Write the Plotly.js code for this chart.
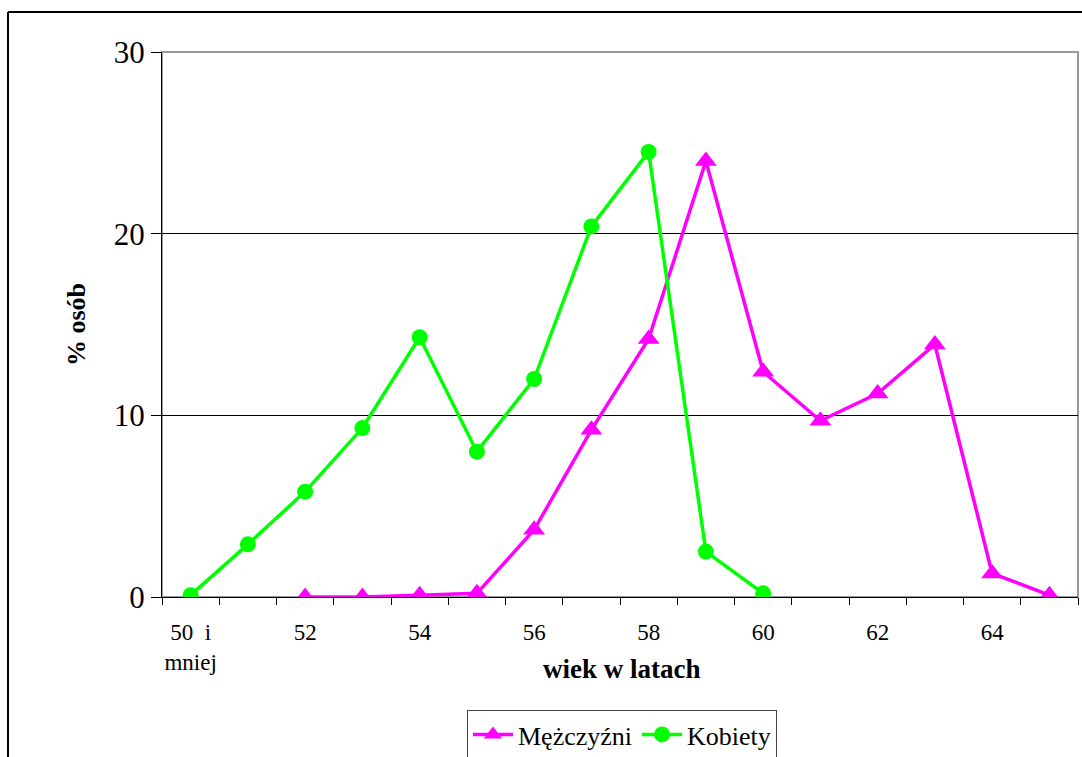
<!DOCTYPE html>
<html>
<head>
<meta charset="utf-8">
<script src="https://cdn.plot.ly/plotly-3.0.1.min.js"></script>
<style>html,body{margin:0;padding:0;background:#fff;}#chart{width:1082px;height:757px;}</style>
</head>
<body>
<div id="chart"></div>
<script>
// Age categories (x positions) and labels
const ages = [50, 51, 52, 53, 54, 55, 56, 57, 58, 59, 60, 61, 62, 63, 64, 65];
const tickPositions = [50, 52, 54, 56, 58, 60, 62, 64];
const tickLabels = ["50\u00a0\u00a0i<br>mniej", "52", "54", "56", "58", "60", "62", "64"];
const xTitle = "wiek w latach";
const yTitle = "% osób";

// Series values (% osób)
const menAges = [52, 53, 54, 55, 56, 57, 58, 59, 60, 61, 62, 63, 64, 65];
const men = [0.0, 0.0, 0.1, 0.2, 3.7, 9.2, 14.2, 24.0, 12.4, 9.7, 11.2, 13.9, 1.3, 0.1];
const womenAges = [50, 51, 52, 53, 54, 55, 56, 57, 58, 59, 60];
const women = [0.1, 2.9, 5.8, 9.3, 14.3, 8.0, 12.0, 20.4, 24.5, 2.5, 0.2];

const serif = "Liberation Serif, Times New Roman, serif";

const traces = [
  {
    x: menAges, y: men, name: "Mężczyźni", type: "scatter", mode: "lines+markers",
    line: {color: "#FF00FF", width: 3.5},
    marker: {symbol: "triangle-up", size: 19, color: "#FF00FF"}
  },
  {
    x: womenAges, y: women, name: "Kobiety", type: "scatter", mode: "lines+markers",
    line: {color: "#00FF00", width: 3.5},
    marker: {symbol: "circle", size: 16, color: "#00FF00"}
  }
];

const W = 1082, H = 757, L = 162, R = 4, T = 52, B = 160;
const pw = W - L - R, ph = H - T - B;
function px(x) { return (x - L) / pw; }
function py(y) { return (H - B - y) / ph; }

const layout = {
  width: W, height: H,
  margin: {l: L, r: R, t: T, b: B, pad: 0, autoexpand: false},
  paper_bgcolor: "#fff", plot_bgcolor: "#fff",
  showlegend: true,
  font: {family: serif, color: "#000"},
  xaxis: {
    range: [49.5, 65.5],
    tickmode: "array", tickvals: tickPositions, ticktext: tickLabels,
    ticks: "", showgrid: false, zeroline: false,
    showline: true, linecolor: "#000", linewidth: 1,
    tickfont: {family: serif, size: 23, color: "#000"},
    ticklabelstandoff: 14,
    minor: {tick0: 49.5, dtick: 1, ticks: "outside", ticklen: 7, tickcolor: "#000", tickwidth: 1, showgrid: false},
    automargin: false,
    fixedrange: true
  },
  yaxis: {
    range: [0, 30], dtick: 10, tick0: 0,
    ticks: "outside", ticklen: 10, tickcolor: "#000", tickwidth: 1,
    showgrid: true, gridcolor: "#000", gridwidth: 1,
    zeroline: false, showline: true, linecolor: "#000", linewidth: 1,
    tickfont: {family: serif, size: 31, color: "#000"},
    title: {text: "<b>" + yTitle + "</b>", font: {family: serif, size: 26, color: "#000"}, standoff: 20},
    automargin: false,
    fixedrange: true
  },
  legend: {
    orientation: "h", x: px(622), xanchor: "center", y: py(710), yanchor: "top",
    bordercolor: "#444", borderwidth: 1, bgcolor: "#fff",
    font: {family: serif, size: 26, color: "#000"},
    itemwidth: 40,
    traceorder: "normal"
  },
  annotations: [
    {xref: "paper", yref: "paper", x: px(622), y: py(669), xanchor: "center", yanchor: "middle",
     showarrow: false, text: "<b>" + xTitle + "</b>", font: {family: serif, size: 27, color: "#000"}}
  ],
  shapes: [
    {type: "rect", xref: "paper", yref: "paper", x0: 0, x1: 1, y0: 0, y1: 1,
     line: {color: "#999", width: 2}, layer: "below"},
    {type: "line", xref: "paper", yref: "paper", x0: px(8), x1: px(8), y0: py(12), y1: py(765),
     line: {color: "#000", width: 2}},
    {type: "line", xref: "paper", yref: "paper", x0: px(8), x1: px(1090), y0: py(12), y1: py(12),
     line: {color: "#000", width: 2}}
  ]
};

Plotly.newPlot("chart", traces, layout, {staticPlot: true, displayModeBar: false});
</script>
</body>
</html>
